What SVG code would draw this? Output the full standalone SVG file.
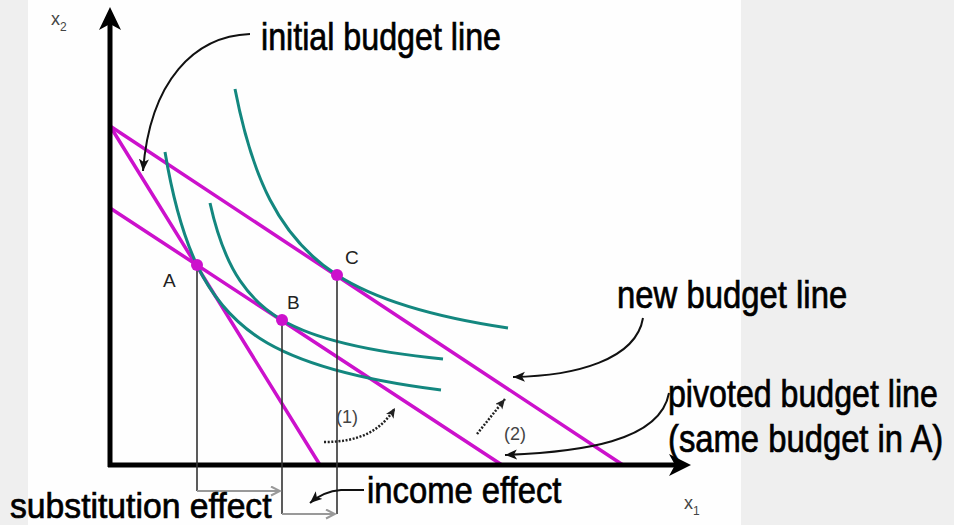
<svg xmlns="http://www.w3.org/2000/svg" width="954" height="525" viewBox="0 0 954 525">
<defs>
<style>
.bg{fill:#efefef}
.budget{stroke:#cc11cc;stroke-width:3.5;fill:none;stroke-linecap:round}
.ic{stroke:#13877f;stroke-width:3;fill:none;stroke-linecap:butt}
.axis{stroke:#000;stroke-width:5;fill:none}
.drop{stroke:#333;stroke-width:1.6;fill:none}
.bracket{stroke:#999;stroke-width:2;fill:none}
.callout{stroke:#111;stroke-width:2;fill:none}
.dots{stroke:#222;stroke-width:2.5;fill:none;stroke-dasharray:2 1.6}
.big{font-family:"Liberation Sans",Arial,sans-serif;fill:#000;stroke:#000;stroke-width:0.7}
.pt{font-family:"Liberation Sans",Arial,sans-serif;fill:#222;font-size:19px}
.num{font-family:"Liberation Sans",Arial,sans-serif;fill:#444;font-size:18px}
.ax{font-family:"Liberation Sans",Arial,sans-serif;fill:#444}
.dot{fill:#cc11cc}
</style>
<marker id="ah" markerUnits="userSpaceOnUse" markerWidth="14" markerHeight="12" refX="12" refY="5" orient="auto">
<path d="M0,0 L12,5 L0,10 L3,5 Z" fill="#111"/>
</marker>
<marker id="ahs" markerUnits="userSpaceOnUse" markerWidth="12" markerHeight="10" refX="10" refY="4.5" orient="auto">
<path d="M0,0 L10,4.5 L0,9 L2.5,4.5 Z" fill="#222"/>
</marker>
<marker id="ahg" markerUnits="userSpaceOnUse" markerWidth="12" markerHeight="12" refX="10" refY="5" orient="auto">
<path d="M1,0.5 L10,5 L1,9.5" fill="none" stroke="#999" stroke-width="2"/>
</marker>
</defs>

<rect class="bg" x="0" y="0" width="954" height="525"/>
<rect x="28" y="0" width="713" height="525" fill="#fefefe"/>

<g id="budget-lines">
<line class="budget" x1="110" y1="126" x2="320" y2="465"/>
<line class="budget" x1="110" y1="126" x2="623" y2="465"/>
<line class="budget" x1="110" y1="208" x2="502" y2="465"/>
</g>

<g id="indifference-curves">
<path class="ic" d="M165,152 Q176.9,222.9 197,265 Q219.5,312.3 260,338.5 Q315.2,374.2 441,390"/>
<path class="ic" d="M210,203 Q221,252.4 240,280.7 Q256.2,304.9 282,320 Q329,347.7 443,359"/>
<path class="ic" d="M235,89 Q248.3,157.5 270,199.8 Q294.6,247.7 337,275 Q392.5,310.8 508,328"/>
</g>

<g id="axes">
<line class="axis" x1="110" y1="467" x2="110" y2="24"/>
<path d="M110,7 L99,30 L110,24 L121,30 Z" fill="#000"/>
<line class="axis" x1="108" y1="465" x2="676" y2="465"/>
<path d="M691,465 L669,454 L675,465 L669,476 Z" fill="#000"/>
<text class="ax" x="51" y="25" font-size="18">x<tspan font-size="12" dy="6">2</tspan></text>
<text class="ax" x="684" y="509" font-size="18">x<tspan font-size="12" dy="6">1</tspan></text>
</g>

<g id="connectors">
<line class="drop" x1="197" y1="265" x2="197" y2="491"/>
<line class="drop" x1="282" y1="320" x2="282" y2="514"/>
<line class="drop" x1="337" y1="275" x2="337" y2="514"/>
<path class="bracket" d="M197,491 L280,491" marker-end="url(#ahg)"/>
<path class="bracket" d="M282,514 L335,514" marker-end="url(#ahg)"/>
<path class="callout" d="M250,34 C195,36 150,80 143,171" marker-end="url(#ah)"/>
<path class="callout" d="M643,318 C636,360 575,376 513,377" marker-end="url(#ah)"/>
<path class="callout" d="M669,393 C660,442 580,452 505,455" marker-end="url(#ah)"/>
<path class="callout" d="M364,490 L341,490 C328,491 318,496 310,503" marker-end="url(#ah)"/>
<path class="dots" d="M324,442 C358,442 380,432 395,408" marker-end="url(#ahs)"/>
<path class="dots" d="M477,434 L505,399" marker-end="url(#ahs)"/>
</g>

<g id="point-A">
<circle class="dot" cx="197" cy="265" r="6"/>
<text class="pt" x="163" y="287">A</text>
</g>
<g id="point-B">
<circle class="dot" cx="282" cy="320" r="6"/>
<text class="pt" x="287" y="309">B</text>
</g>
<g id="point-C">
<circle class="dot" cx="337" cy="275" r="6"/>
<text class="pt" x="345" y="264">C</text>
</g>

<g id="step-labels">
<text class="num" x="336" y="423">(1)</text>
<text class="num" x="504" y="440">(2)</text>
</g>

<g id="label-initial">
<text class="big" transform="translate(261,50) scale(0.848,1)" font-size="38">initial budget line</text>
</g>
<g id="label-new">
<text class="big" transform="translate(617,308) scale(0.865,1)" font-size="38">new budget line</text>
</g>
<g id="label-pivoted">
<text class="big" transform="translate(668,407) scale(0.846,1)" font-size="38">pivoted budget line</text>
<text class="big" transform="translate(668,452) scale(0.863,1)" font-size="38">(same budget in A)</text>
</g>
<g id="label-substitution">
<text class="big" transform="translate(10,518) scale(0.963,1)" font-size="35">substitution effect</text>
</g>
<g id="label-income">
<text class="big" transform="translate(367,503) scale(0.911,1)" font-size="36">income effect</text>
</g>
</svg>
